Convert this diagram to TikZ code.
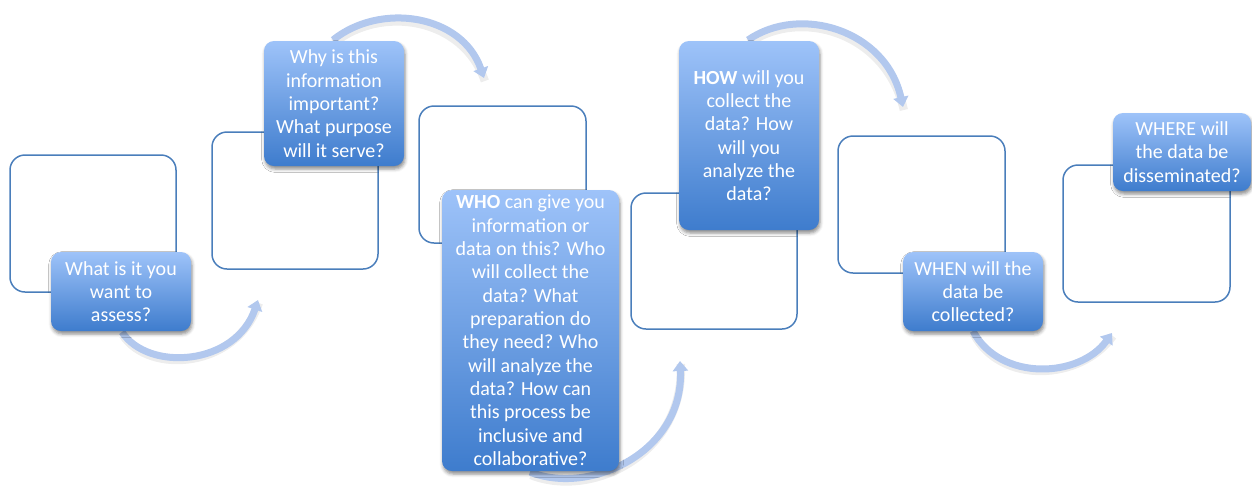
\documentclass[tikz,border=0pt]{standalone}
\usepackage{fontspec}
\setmainfont{Carlito}
\usetikzlibrary{arrows.meta,shadows.blur}
\definecolor{outl}{RGB}{74,126,187}
\definecolor{btop}{RGB}{158,195,249}
\definecolor{bbot}{RGB}{62,124,205}
\definecolor{arr}{RGB}{178,200,238}
\begin{document}
\begin{tikzpicture}[x=0.6pt,y=-0.6pt,
  wbox/.style={draw=outl,line width=0.9pt,rounded corners=9pt,fill=white,inner sep=0pt,outer sep=0pt},
  bbox/.style={rounded corners=6pt,top color=btop,bottom color=bbot,draw=none,text=white,align=center,
    inner sep=0pt,outer sep=0pt,font=\fontsize{12}{14}\selectfont,
    blur shadow={shadow xshift=0.6pt,shadow yshift=-1.8pt,shadow blur radius=2pt,shadow opacity=45}},
  flow/.style={draw=arr,line width=4.2pt,-{Triangle[width=9pt,length=6pt]}},
  flowshadow/.style={draw=black,opacity=0.07,line width=5pt,transform canvas={xshift=0.5pt,yshift=-1.8pt}}]
\useasboundingbox (0,0) rectangle (1252,485);
% connector end points
\coordinate (s1) at (122,332); \coordinate (e1) at (258,300);
\coordinate (s2) at (333,40);  \coordinate (e2) at (484,78);
\coordinate (s3) at (530,472); \coordinate (e3) at (680,361);
\coordinate (s4) at (748,40);  \coordinate (e4) at (903,107);
\coordinate (s5) at (973,331); \coordinate (e5) at (1112,333);
% arrows
\draw[flowshadow] (s1) .. controls (148,372) and (236,366) .. (e1);
\draw[flow] (s1) .. controls (148,372) and (236,366) .. (e1);
\draw[flowshadow] (s2) .. controls (380,2) and (462,14) .. (e2);
\draw[flow] (s2) .. controls (380,2) and (462,14) .. (e2);
\draw[flowshadow] (s3) .. controls (590,496) and (684,452) .. (e3);
\draw[flow] (s3) .. controls (590,496) and (684,452) .. (e3);
\draw[flowshadow] (s4) .. controls (800,4) and (886,30) .. (e4);
\draw[flow] (s4) .. controls (800,4) and (886,30) .. (e4);
\draw[flowshadow] (s5) .. controls (1000,382) and (1080,378) .. (e5);
\draw[flow] (s5) .. controls (1000,382) and (1080,378) .. (e5);
% white boxes
\node[wbox,minimum width=99.6pt,minimum height=82.2pt] (w1) at (93,223.5) {};
\node[wbox,minimum width=99.6pt,minimum height=82.2pt] (w2) at (295,200.5) {};
\node[wbox,minimum width=100.2pt,minimum height=82.2pt] (w3) at (502.5,174.5) {};
\node[wbox,minimum width=99.6pt,minimum height=81.6pt] (w4) at (714,261) {};
\node[wbox,minimum width=100.2pt,minimum height=82.2pt] (w5) at (921.5,204.5) {};
\node[wbox,minimum width=100.2pt,minimum height=82.2pt] (w6) at (1146.5,233.5) {};
% blue boxes
\node[bbox,minimum width=84pt,minimum height=47.4pt] (A) at (121,291.5) {What is it you\\want to\\assess?};
\node[bbox,minimum width=84pt,minimum height=75pt] (B) at (334,103.5) {Why is this\\information\\important?\\What purpose\\will it serve?};
\node[bbox,minimum width=106.2pt,minimum height=168.6pt] (C) at (530.5,330.5) {\textbf{WHO} can give you\\information or\\data on this? Who\\will collect the\\data? What\\preparation do\\they need? Who\\will analyze the\\data? How can\\this process be\\inclusive and\\collaborative?};
\node[bbox,minimum width=84pt,minimum height=113.4pt] (D) at (749,135.5) {\textbf{HOW} will you\\collect the\\data? How\\will you\\analyze the\\data?};
\node[bbox,minimum width=84pt,minimum height=47.4pt] (E) at (973,291.5) {WHEN will the\\data be\\collected?};
\node[bbox,minimum width=82.8pt,minimum height=46.8pt] (F) at (1182,152) {WHERE will\\the data be\\disseminated?};
\end{tikzpicture}
\end{document}
